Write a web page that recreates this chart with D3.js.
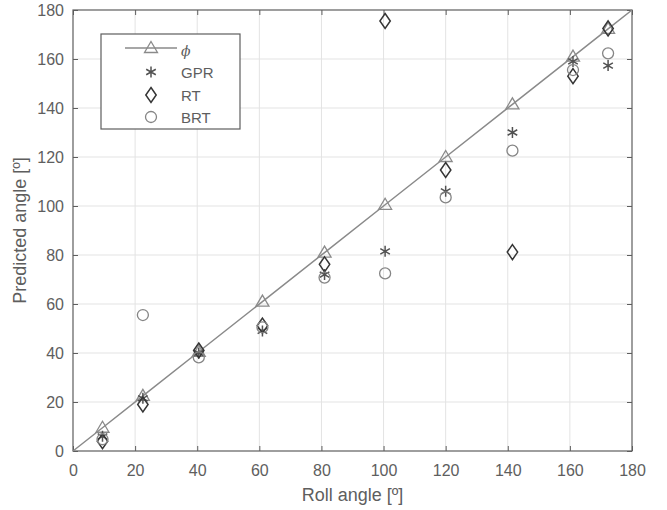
<!DOCTYPE html>
<html>
<head>
<meta charset="utf-8">
<script src="https://cdn.jsdelivr.net/npm/d3@7"></script>
<style>
  body { margin: 0; background: #fff; }
  text { font-family: "Liberation Sans", Arial, sans-serif; }
</style>
</head>
<body>
<svg id="chart" width="667" height="510"></svg>
<script>
// data
const rollAngle = [9.5, 22.5, 40.5, 61, 81, 100.5, 120, 141.5, 161, 172.3]
const gpr = [6, 21.5, 40, 49, 72, 81.5, 106, 130, 159, 157.3]
const rt  = [4, 19, 41, 51.2, 76.2, 175.5, 114.7, 81.2, 153, 172.5]
const brt = [4.8, 55.5, 38.2, 50.5, 70.8, 72.5, 103.5, 122.6, 155.5, 162.3]
const ticks = [0, 20, 40, 60, 80, 100, 120, 140, 160, 180]

const svg = d3.select('#chart')
const margin = {left: 73, top: 10, right: 35, bottom: 59}
const width = 667 - margin.left - margin.right
const height = 510 - margin.top - margin.bottom
const axisColor = '#5e5e5e'

const x = d3.scaleLinear().domain([0, 180]).range([0, width])
const y = d3.scaleLinear().domain([0, 180]).range([height, 0])

const g = svg.append('g').attr('transform', `translate(${margin.left},${margin.top})`)

// grid
g.selectAll('.gx').data(ticks.slice(1, -1)).enter().append('line')
    .attr('x1', d => x(d)).attr('x2', d => x(d))
    .attr('y1', 0).attr('y2', height)
    .style('stroke', '#e3e3e3').style('stroke-width', 1)
g.selectAll('.gy').data(ticks.slice(1, -1)).enter().append('line')
    .attr('y1', d => y(d)).attr('y2', d => y(d))
    .attr('x1', 0).attr('x2', width)
    .style('stroke', '#e3e3e3').style('stroke-width', 1)

// axes (ticks inside, on all four sides)
function styleAxis(sel) {
    sel.select('.domain').remove()
    sel.selectAll('line').style('stroke', axisColor)
    sel.selectAll('text').style('fill', axisColor).style('font-size', '16px')
}
g.append('g').attr('transform', `translate(0,${height})`)
    .call(d3.axisBottom(x).tickValues(ticks).tickSizeInner(-5).tickSizeOuter(0).tickPadding(14))
    .call(styleAxis)
g.append('g')
    .call(d3.axisTop(x).tickValues(ticks).tickSizeInner(-5).tickSizeOuter(0).tickFormat(''))
    .call(styleAxis)
g.append('g')
    .call(d3.axisLeft(y).tickValues(ticks).tickSizeInner(-5).tickSizeOuter(0).tickPadding(9))
    .call(styleAxis)
g.append('g').attr('transform', `translate(${width},0)`)
    .call(d3.axisRight(y).tickValues(ticks).tickSizeInner(-5).tickSizeOuter(0).tickFormat(''))
    .call(styleAxis)

g.append('rect').attr('width', width).attr('height', height)
    .style('fill', 'none').style('stroke', axisColor).style('stroke-width', 1.2)

// labels
svg.append('text').attr('x', margin.left + width / 2).attr('y', 501)
    .attr('text-anchor', 'middle').style('font-size', '18px').style('fill', axisColor)
    .text('Roll angle [º]')
svg.append('text').attr('transform', `translate(26,${margin.top + height / 2}) rotate(-90)`)
    .attr('text-anchor', 'middle').style('font-size', '18px').style('fill', axisColor)
    .text('Predicted angle [º]')

// marker paths
const triPath = 'M0,-6.5L6.5,4.5L-6.5,4.5Z'
const diamondPath = 'M0,-7.5L5.2,0L0,7.5L-5.2,0Z'
const starPath = 'M0,-5.5L0,5.5M-4.8,-2.75L4.8,2.75M-4.8,2.75L4.8,-2.75'

const phiColor = '#8a8a8a', gprColor = '#525252', rtColor = '#353535', brtColor = '#858585'

// phi line + triangles
const lineData = [0].concat(rollAngle).concat([180])
g.append('path').datum(lineData)
    .attr('d', d3.line().x(d => x(d)).y(d => y(d)))
    .style('fill', 'none').style('stroke', phiColor).style('stroke-width', 1.5)
g.selectAll('.tri').data(rollAngle).enter().append('path')
    .attr('transform', d => `translate(${x(d)},${y(d)})`)
    .attr('d', triPath)
    .style('fill', 'none').style('stroke', phiColor).style('stroke-width', 1.3)

g.selectAll('.gpr').data(gpr).enter().append('path')
    .attr('transform', (d, i) => `translate(${x(rollAngle[i])},${y(d)})`)
    .attr('d', starPath)
    .style('fill', 'none').style('stroke', gprColor).style('stroke-width', 1.5)

g.selectAll('.rt').data(rt).enter().append('path')
    .attr('transform', (d, i) => `translate(${x(rollAngle[i])},${y(d)})`)
    .attr('d', diamondPath)
    .style('fill', 'none').style('stroke', rtColor).style('stroke-width', 1.5)

g.selectAll('.brt').data(brt).enter().append('circle')
    .attr('cx', (d, i) => x(rollAngle[i])).attr('cy', d => y(d)).attr('r', 5.5)
    .style('fill', 'none').style('stroke', brtColor).style('stroke-width', 1.3)

// legend
const legend = svg.append('g')
legend.append('rect').attr('x', 101).attr('y', 34).attr('width', 139).attr('height', 95)
    .style('fill', '#fff').style('stroke', axisColor).style('stroke-width', 1.2)
const legendItems = [
    {label: 'ϕ', y: 48},
    {label: 'GPR', y: 72},
    {label: 'RT', y: 95},
    {label: 'BRT', y: 117}
]
legend.append('line').attr('x1', 125).attr('x2', 177).attr('y1', 48).attr('y2', 48)
    .style('stroke', phiColor).style('stroke-width', 1.5)
legend.append('path').attr('transform', 'translate(151,48)').attr('d', triPath)
    .style('fill', 'none').style('stroke', phiColor).style('stroke-width', 1.3)
legend.append('path').attr('transform', 'translate(151,72)').attr('d', starPath)
    .style('fill', 'none').style('stroke', gprColor).style('stroke-width', 1.5)
legend.append('path').attr('transform', 'translate(151,95)').attr('d', diamondPath)
    .style('fill', 'none').style('stroke', rtColor).style('stroke-width', 1.5)
legend.append('circle').attr('cx', 151).attr('cy', 117).attr('r', 5.5)
    .style('fill', 'none').style('stroke', brtColor).style('stroke-width', 1.3)
legend.selectAll('.lt').data(legendItems).enter().append('text')
    .attr('x', 181).attr('y', d => d.y + (d.label === 'ϕ' ? 8 : 5.5))
    .style('font-size', d => d.label === 'ϕ' ? '14px' : '15px')
    .style('font-family', d => d.label === 'ϕ' ? '"DejaVu Serif", serif' : null)
    .style('font-style', d => d.label === 'ϕ' ? 'italic' : null)
    .style('fill', axisColor)
    .text(d => d.label)
</script>
</body>
</html>
